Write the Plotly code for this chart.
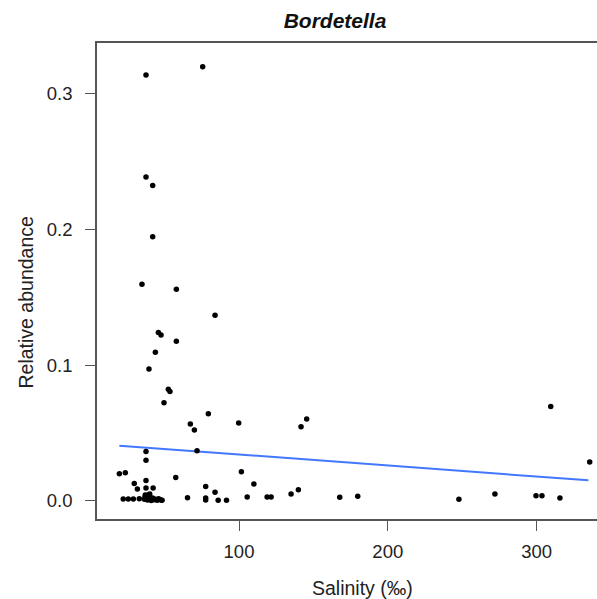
import plotly.graph_objects as go

# Salinity (‰) and relative abundance of Bordetella
salinity = [
    37.5, 75.6,
    37.5, 42.0, 42.0, 34.8, 57.9, 83.9, 45.8, 47.6, 57.9, 43.8, 39.5,
    52.5, 53.6, 49.6, 79.4, 67.3, 70.0, 99.8, 71.8, 37.5, 37.5,
    19.6, 23.6, 57.5, 101.6, 110.0, 29.6, 31.7, 37.5, 37.5, 42.3,
    77.6, 83.9, 65.4, 77.6, 77.6, 86.0, 91.6, 105.5, 118.9, 121.6,
    141.7, 145.5, 135.0, 139.9, 167.7, 179.8, 247.8, 272.0, 299.6, 303.6,
    315.7, 309.5, 335.7,
    22.2, 25.6, 29.0, 33.0, 36.5, 37.0, 38.0, 38.5, 39.5, 40.0, 40.0,
    41.0, 42.0, 43.0, 44.0, 45.0, 46.0, 47.5, 48.3, 36.8, 38.8,
]
abundance = [
    0.314, 0.320,
    0.2387, 0.2325, 0.1946, 0.1597, 0.156, 0.1368, 0.124, 0.1223, 0.1176, 0.1095, 0.0972,
    0.0822, 0.0805, 0.0723, 0.0642, 0.0566, 0.0522, 0.0573, 0.0369, 0.0362, 0.0298,
    0.0199, 0.0207, 0.0172, 0.0214, 0.0123, 0.0127, 0.0087, 0.0149, 0.0093, 0.0093,
    0.0105, 0.0062, 0.0022, 0.0020, 0.0006, 0.0004, 0.0004, 0.0027, 0.0028, 0.0028,
    0.0546, 0.0603, 0.0049, 0.0081, 0.0025, 0.0032, 0.0010, 0.0049, 0.0037, 0.0037,
    0.0020, 0.0694, 0.0286,
    0.0013, 0.0013, 0.0013, 0.0015, 0.0010, 0.0042, 0.0020, 0.0005, 0.0030, 0.0010, 0.0050,
    0.0002, 0.0020, 0.0007, 0.0010, 0.0003, 0.0015, 0.0005, 0.0003, 0.0025, 0.0042,
]

# Linear fit line endpoints
fit_x = [19.6, 334.8]
fit_y = [0.0406, 0.0150]

x_ticks = [100, 200, 300]
y_ticks = [0.0, 0.1, 0.2, 0.3]
y_ticktext = ["0.0", "0.1", "0.2", "0.3"]

FONT = "Liberation Sans, Arial, sans-serif"
TXT = "#222222"
AX = "#555555"

fig = go.Figure()
fig.add_trace(go.Scatter(
    x=fit_x, y=fit_y, mode="lines",
    line=dict(color="#4277ff", width=2),
    showlegend=False, hoverinfo="skip",
))
fig.add_trace(go.Scatter(
    x=salinity, y=abundance, mode="markers",
    marker=dict(color="black", size=5.5, line=dict(width=0)),
    showlegend=False,
))

fig.update_layout(
    width=597, height=599,
    margin=dict(l=97, r=0, t=43, b=80),
    paper_bgcolor="white", plot_bgcolor="white",
    font=dict(family=FONT, color=TXT, size=18),
    title=dict(
        text="<b><i>Bordetella</i></b>",
        x=335 / 597, xanchor="center", xref="container",
        y=1 - 21 / 599, yanchor="middle", yref="container",
        font=dict(family=FONT, size=21, color="#111111"),
    ),
    annotations=[
        dict(text="Salinity (‰)", xref="paper", yref="paper",
             x=(362 - 97) / 500, y=(519 - 588) / 476,
             xanchor="center", yanchor="middle", showarrow=False,
             font=dict(family=FONT, size=19.5, color=TXT)),
        dict(text="Relative abundance", xref="paper", yref="paper",
             x=(25 - 97) / 500, y=(519 - 302.5) / 476, textangle=-90,
             xanchor="center", yanchor="middle", showarrow=False,
             font=dict(family=FONT, size=19.5, color=TXT)),
    ],
)
fig.update_xaxes(
    range=[4.57, 340.6], tickvals=x_ticks,
    ticks="outside", ticklen=10, tickwidth=1.3, tickcolor=AX,
    showline=True, linecolor=AX, linewidth=1.6, mirror=True,
    showgrid=False, zeroline=False,
    tickfont=dict(size=18.5, color=TXT),
    ticklabelstandoff=5,
)
fig.update_yaxes(
    range=[-0.0135, 0.3376], tickvals=y_ticks, ticktext=y_ticktext,
    ticks="outside", ticklen=10, tickwidth=1.3, tickcolor=AX,
    showline=True, linecolor=AX, linewidth=1.6, mirror=False,
    showgrid=False, zeroline=False,
    tickfont=dict(size=18.5, color=TXT),
    ticklabelstandoff=9,
)

fig.write_html("out.html")
